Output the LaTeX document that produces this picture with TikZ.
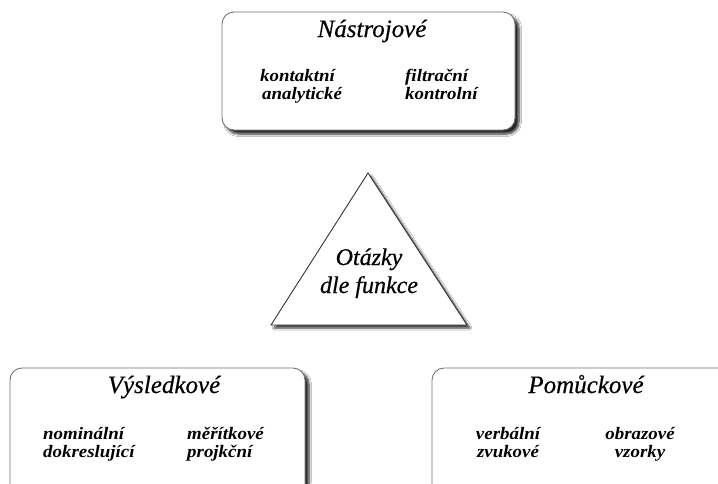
\documentclass[tikz,border=0pt]{standalone}
\usepackage{fontspec}
\setmainfont{Liberation Serif}
\newfontface\ttlfont[FakeBold=0.5]{Liberation Serif Italic}
\newfontface\itmfont[FakeStretch=1.08]{Liberation Serif Bold Italic}
\usetikzlibrary{shadows,shadows.blur}
\tikzset{
  panel/.style={draw=black!55, line width=0.9pt, fill=white, rounded corners=12pt,
    blur shadow={shadow xshift=4pt, shadow yshift=-4pt, shadow blur steps=6, shadow blur radius=2.5pt, shadow opacity=85}},
  tri/.style={draw=black!80, line width=0.9pt, fill=white,
    blur shadow={shadow xshift=3pt, shadow yshift=-3pt, shadow blur steps=6, shadow blur radius=2pt, shadow opacity=80}},
  ttl/.style={anchor=base, inner sep=0pt, font=\fontsize{25}{30}\ttlfont, text=black},
  itm/.style={anchor=base west, inner sep=0pt, font=\fontsize{17.5}{20}\itmfont, text=black},
  itmc/.style={anchor=base, inner sep=0pt, font=\fontsize{17.5}{20}\itmfont, text=black},
  tritxt/.style={anchor=base, inner sep=0pt, font=\fontsize{24}{28}\ttlfont, text=black}
}
\begin{document}
\begin{tikzpicture}[x=1pt,y=-1pt]
\useasboundingbox (0,0) rectangle (718,483);
\clip (0,0) rectangle (718,483);
\fill[white] (0,0) rectangle (718,483);
% top panel
\path[panel] (222,12) rectangle (515,130);
\node[ttl] (t1) at (372,37) {Nástrojové};
\node[itm] (a1) at (260,81) {kontaktní};
\node[itm] (a2) at (262,99) {analytické};
\node[itm] (a3) at (405,81) {filtrační};
\node[itm] (a4) at (405,99) {kontrolní};
% triangle
\path[tri] (368,173) coordinate (apex) -- (467,325) coordinate (br) -- (271,325) coordinate (bl) -- cycle;
\node[tritxt] (o1) at (369,265) {Otázky};
\node[tritxt] (o2) at (369,293) {dle funkce};
% bottom left
\path[panel] (10,368) rectangle (305,500);
\node[ttl] (t2) at (164,393) {Výsledkové};
\node[itm] (b1) at (43,439) {nominální};
\node[itm] (b2) at (43,457) {dokreslující};
\node[itm] (b3) at (187,439) {měřítkové};
\node[itm] (b4) at (187,457) {projkční};
% bottom right
\path[panel] (432,368) rectangle (740,500);
\node[ttl] (t3) at (586,393) {Pomůckové};
\node[itmc] (c1) at (508,439) {verbální};
\node[itmc] (c2) at (508,457) {zvukové};
\node[itmc] (c3) at (640,439) {obrazové};
\node[itmc] (c4) at (640,457) {vzorky};
\end{tikzpicture}
\end{document}
